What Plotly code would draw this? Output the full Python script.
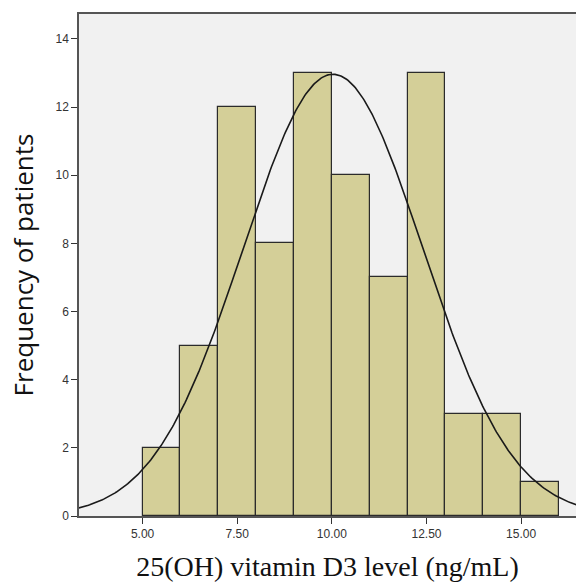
import numpy as np
import plotly.graph_objects as go

bin_left = [5, 6, 7, 8, 9, 10, 11, 12, 13, 14, 15]
counts = [2, 5, 12, 8, 13, 10, 7, 13, 3, 3, 1]
bin_width = 1.0
fit_mean = 10.03
fit_sd = 2.37
x_ticks = [5.0, 7.5, 10.0, 12.5, 15.0]
x_tick_labels = ["5.00", "7.50", "10.00", "12.50", "15.00"]
y_ticks = [0, 2, 4, 6, 8, 10, 12, 14]

n_total = sum(counts)
xs = np.linspace(3.2, 16.6, 400)
ys = n_total * bin_width / (fit_sd * np.sqrt(2 * np.pi)) * np.exp(-0.5 * ((xs - fit_mean) / fit_sd) ** 2)

fig = go.Figure()
fig.add_trace(go.Bar(
    x=[b + bin_width / 2 for b in bin_left], y=counts, width=bin_width,
    marker=dict(color="#D4CF98", line=dict(color="#2b2b2b", width=1.2)),
    showlegend=False, hoverinfo="skip"))
fig.add_trace(go.Scatter(x=xs, y=ys, mode="lines",
                         line=dict(color="#1a1a1a", width=1.6), showlegend=False,
                         hoverinfo="skip"))

fig.update_layout(
    width=576, height=582,
    margin=dict(l=79, r=0, t=14, b=66),
    paper_bgcolor="white", plot_bgcolor="#F1F1F1",
    bargap=0,
)
fig.update_xaxes(
    range=[3.32, 16.45], tickvals=x_ticks, ticktext=x_tick_labels,
    ticks="outside", ticklen=6, tickcolor="#333", tickwidth=1,
    tickfont=dict(family="Arial", size=12, color="#333"),
    showgrid=False, zeroline=False, showline=True, linecolor="#555", linewidth=1.5,
    mirror=True, automargin=False,
    title=dict(text="25(OH) vitamin D3 level (ng/mL)",
               font=dict(family="Liberation Serif, Times New Roman, serif", size=28, color="#111"),
               standoff=16),
)
fig.update_yaxes(
    range=[0, 14.73], tickvals=y_ticks,
    ticks="outside", ticklen=6, tickcolor="#333", tickwidth=1,
    tickfont=dict(family="Arial", size=12, color="#333"),
    showgrid=False, zeroline=False, showline=True, linecolor="#555", linewidth=1.5,
    automargin=False,
    title=dict(text="Frequency of patients",
               font=dict(family="Open Sans, Calibri, sans-serif", size=26, color="#111"),
               standoff=14),
)
fig.write_html("out.html", config={"displayModeBar": False},
               post_script="document.body.style.margin='0';document.body.style.overflow='hidden';")
